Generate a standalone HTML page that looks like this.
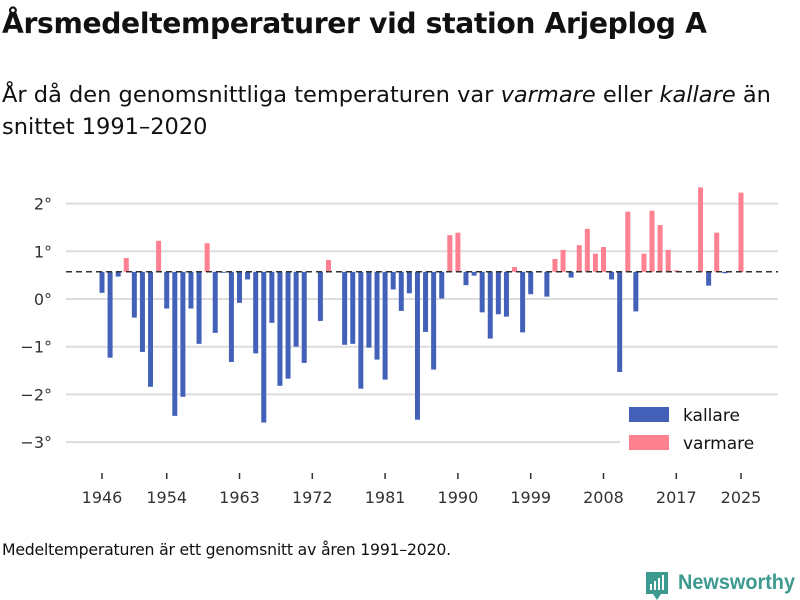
<!DOCTYPE html>
<html><head><meta charset="utf-8"><style>
body{margin:0;width:800px;height:600px;background:#fff;font-family:"Liberation Sans","DejaVu Sans",sans-serif;color:#111;overflow:hidden;position:relative}
.t{position:absolute;left:2px;top:7px;font-size:28.2px;font-weight:bold;font-family:"DejaVu Sans","Liberation Sans",sans-serif;letter-spacing:-0.35px;white-space:nowrap}
.s{position:absolute;left:2px;top:79px;font-size:22.5px;line-height:32px;font-family:"DejaVu Sans","Liberation Sans",sans-serif;letter-spacing:0px}
.f{position:absolute;left:2px;top:540px;font-size:15.7px;font-family:"DejaVu Sans","Liberation Sans",sans-serif;letter-spacing:-0.2px}
</style></head><body>
<div class="t">Årsmedeltemperaturer vid station Arjeplog A</div>
<div class="s">År då den genomsnittliga temperaturen var <i>varmare</i> eller <i>kallare</i> än<br>snittet 1991–2020</div>
<svg id="c" width="800" height="600" style="position:absolute;left:0;top:0"></svg>
<div class="f">Medeltemperaturen är ett genomsnitt av åren 1991–2020.</div>
<script>
const startYear = 1946;
const values = [0.13,-1.23,0.47,0.86,-0.39,-1.11,-1.84,1.22,-0.2,-2.45,-2.05,-0.2,-0.94,1.17,-0.71,0.55,
-1.32,-0.08,0.41,-1.14,-2.59,-0.5,-1.82,-1.67,-1.0,-1.34,null,-0.46,0.82,null,-0.96,-0.94,-1.88,-1.02,-1.27,-1.69,
0.2,-0.25,0.12,-2.53,-0.69,-1.48,0.01,1.34,1.39,0.29,0.49,-0.28,-0.83,-0.32,-0.37,0.67,-0.7,0.1,
null,0.05,0.84,1.03,0.45,1.13,1.47,0.95,1.09,0.41,-1.53,1.83,-0.26,0.95,1.85,1.55,1.03,0.6,null,null,2.34,0.28,1.39,0.54,null,2.23];
const mean = 0.57;
const yTicks = [2,1,0,-1,-2,-3];
const xTicks = [1946,1954,1963,1972,1981,1990,1999,2008,2017,2025];
const svg=document.getElementById('c');const NS='http://www.w3.org/2000/svg';
function X(yr){return 102+(yr-1946)*(639/79);}
function Y(v){return 299-v*47.7;}
function mk(t,a,p){const e=document.createElementNS(NS,t);for(const k in a)e.setAttribute(k,a[k]);(p||svg).appendChild(e);return e;}
yTicks.forEach(v=>{
 const g=mk('line',{x1:66,x2:778,y1:Y(v),y2:Y(v),stroke:'#ddd','stroke-width':2});
 
 
 const t=mk('text',{x:52,y:Y(v)+6,'text-anchor':'end','font-size':16,fill:'#333','font-family':'DejaVu Sans, sans-serif'});
 t.textContent=(v<0?'−'+(-v):v)+'°';
 
 
});
values.forEach((v,i)=>{
 if(v===null)return;
 const yr=startYear+i;const top=Math.min(Y(v),Y(mean));const h=Math.max(Math.abs(Y(v)-Y(mean)),1);
 const r=mk('rect',{x:X(yr)-2.5,y:top,width:5,height:h,fill:v>=mean?'#ff8091':'#4361b8'});
 
 
});
const d=mk('line',{x1:66,x2:778,y1:Y(mean),y2:Y(mean),stroke:'#333','stroke-width':1.5,'stroke-dasharray':'6,4'});


xTicks.forEach(yr=>{
 mk('line',{x1:X(yr),x2:X(yr),y1:473,y2:479,stroke:'#333','stroke-width':1.5});
 const t=mk('text',{x:X(yr),y:503,'text-anchor':'middle','font-size':16,fill:'#333','font-family':'DejaVu Sans, sans-serif'});
 t.textContent=yr;
 
 
});
const lg=mk('g',{});


mk('rect',{x:620,y:400,width:160,height:58,fill:'#fff'},lg);
mk('rect',{x:629,y:407,width:40,height:15,fill:'#4361b8'},lg);
mk('rect',{x:629,y:435,width:40,height:15,fill:'#ff8091'},lg);
const l1=mk('text',{x:683,y:421,'font-size':17,fill:'#111','font-family':'DejaVu Sans, sans-serif'},lg);l1.textContent='kallare';
const l2=mk('text',{x:683,y:449,'font-size':17,fill:'#111','font-family':'DejaVu Sans, sans-serif'},lg);l2.textContent='varmare';
const lo=mk('g',{});


mk('path',{d:'M646 572h22v22h-7l-4 6-4-6h-7z',fill:'#3d9a8f'},lo);
mk('rect',{x:650,y:584,width:2,height:6,fill:'#fff'},lo);
mk('rect',{x:654,y:581,width:2,height:9,fill:'#fff'},lo);
mk('rect',{x:658,y:578,width:2,height:12,fill:'#fff'},lo);
mk('rect',{x:662,y:575,width:2,height:15,fill:'#fff'},lo);
const lt=mk('text',{x:678,y:589,'font-size':21,'font-weight':'bold',fill:'#3d9a8f','font-family':'Liberation Sans, sans-serif',textLength:117,lengthAdjust:'spacingAndGlyphs'},lo);lt.textContent='Newsworthy';
</script>
</body></html>
